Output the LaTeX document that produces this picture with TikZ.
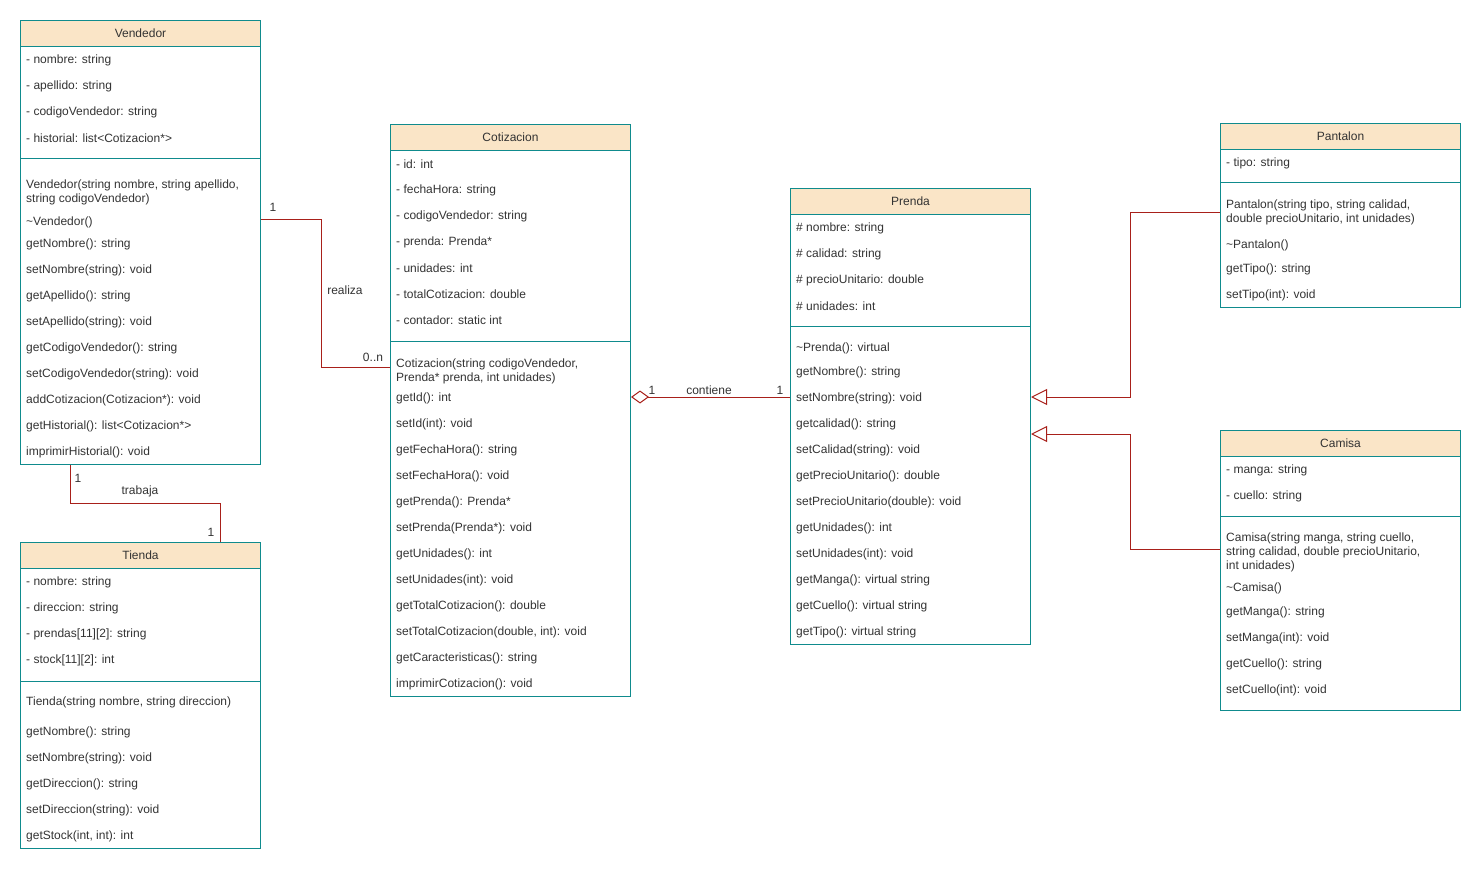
\documentclass[tikz,border=0pt]{standalone}
\usepackage{fontspec}
\setmainfont{Liberation Sans}
\usetikzlibrary{arrows.meta}
\definecolor{umlteal}{HTML}{0F8B8D}
\definecolor{umlhead}{HTML}{FAE5C7}
\definecolor{umlred}{HTML}{A8201A}
\definecolor{umltext}{HTML}{333333}
\tikzset{
	classbox/.style={draw=umlteal, line width=1pt, minimum width=240pt, inner sep=0pt, anchor=north west},
	headbox/.style={draw=umlteal, fill=umlhead, line width=1pt, minimum width=240pt, minimum height=26pt, inner sep=0pt, anchor=north west, text=umltext},
	row/.style={anchor=west, inner sep=0pt, text=umltext, align=left, yshift=-1pt},
	sepline/.style={draw=umlteal, line width=1pt},
	rel/.style={draw=umlred, line width=1pt},
	lbl/.style={text=umltext, inner sep=0pt, yshift=-1pt}
}
\begin{document}
\begin{tikzpicture}[x=1pt, y=-1pt, font=\fontsize{12}{14}\selectfont]
	\useasboundingbox (0,0) rectangle (1481,872);

	% Vendedor
	\node[classbox, minimum height=444pt] (vendedor) at (20,20) {};
	\node[headbox] (vendedor-h) at (20,20) {Vendedor};
	\draw[sepline] (20,159) -- (260,159);
	\foreach \y/\t [count=\i] in {59/{- nombre: string}, 85/{- apellido: string}, 111/{- codigoVendedor: string}, 137/{- historial: list<Cotizacion*>},
		191/{Vendedor(string nombre, string apellido,\\string codigoVendedor)}, 221/{\textasciitilde Vendedor()}, 243/{getNombre(): string}, 269/{setNombre(string): void},
		295/{getApellido(): string}, 321/{setApellido(string): void}, 347/{getCodigoVendedor(): string}, 373/{setCodigoVendedor(string): void},
		399/{addCotizacion(Cotizacion*): void}, 425/{getHistorial(): list<Cotizacion*>}, 451/{imprimirHistorial(): void}}
		\node[row] (vendedor-\i) at (26,\y) {\t};

	% Tienda
	\node[classbox, minimum height=306pt] (tienda) at (20,542) {};
	\node[headbox] (tienda-h) at (20,542) {Tienda};
	\draw[sepline] (20,681) -- (260,681);
	\foreach \y/\t [count=\i] in {581/{- nombre: string}, 607/{- direccion: string}, 633/{- prendas[11][2]: string}, 659/{- stock[11][2]: int},
		701/{Tienda(string nombre, string direccion)}, 731/{getNombre(): string}, 757/{setNombre(string): void}, 783/{getDireccion(): string},
		809/{setDireccion(string): void}, 835/{getStock(int, int): int}}
		\node[row] (tienda-\i) at (26,\y) {\t};

	% Cotizacion
	\node[classbox, minimum height=572pt] (cotizacion) at (390,124) {};
	\node[headbox] (cotizacion-h) at (390,124) {Cotizacion};
	\draw[sepline] (390,341) -- (630,341);
	\foreach \y/\t [count=\i] in {163/{- id: int}, 189/{- fechaHora: string}, 215/{- codigoVendedor: string}, 241/{- prenda: Prenda*},
		267/{- unidades: int}, 293/{- totalCotizacion: double}, 319/{- contador: static int},
		370/{Cotizacion(string codigoVendedor,\\Prenda* prenda, int unidades)}, 397/{getId(): int}, 423/{setId(int): void},
		449/{getFechaHora(): string}, 475/{setFechaHora(): void}, 501/{getPrenda(): Prenda*}, 527/{setPrenda(Prenda*): void},
		553/{getUnidades(): int}, 579/{setUnidades(int): void}, 605/{getTotalCotizacion(): double},
		631/{setTotalCotizacion(double, int): void}, 657/{getCaracteristicas(): string}, 683/{imprimirCotizacion(): void}}
		\node[row] (cotizacion-\i) at (396,\y) {\t};

	% Prenda
	\node[classbox, minimum height=456pt] (prenda) at (790,188) {};
	\node[headbox] (prenda-h) at (790,188) {Prenda};
	\draw[sepline] (790,326) -- (1030,326);
	\foreach \y/\t [count=\i] in {227/{\# nombre: string}, 253/{\# calidad: string}, 279/{\# precioUnitario: double}, 305/{\# unidades: int},
		347/{\textasciitilde Prenda(): virtual}, 371/{getNombre(): string}, 397/{setNombre(string): void}, 423/{getcalidad(): string},
		449/{setCalidad(string): void}, 475/{getPrecioUnitario(): double}, 501/{setPrecioUnitario(double): void},
		527/{getUnidades(): int}, 553/{setUnidades(int): void}, 579/{getManga(): virtual string},
		605/{getCuello(): virtual string}, 631/{getTipo(): virtual string}}
		\node[row] (prenda-\i) at (796,\y) {\t};

	% Pantalon
	\node[classbox, minimum height=184pt] (pantalon) at (1220,123) {};
	\node[headbox] (pantalon-h) at (1220,123) {Pantalon};
	\draw[sepline] (1220,183) -- (1460,183);
	\foreach \y/\t [count=\i] in {162/{- tipo: string}, 211/{Pantalon(string tipo, string calidad,\\double precioUnitario, int unidades)},
		244/{\textasciitilde Pantalon()}, 268/{getTipo(): string}, 294/{setTipo(int): void}}
		\node[row] (pantalon-\i) at (1226,\y) {\t};

	% Camisa
	\node[classbox, minimum height=280pt] (camisa) at (1220,430) {};
	\node[headbox] (camisa-h) at (1220,430) {Camisa};
	\draw[sepline] (1220,516) -- (1460,516);
	\foreach \y/\t [count=\i] in {469/{- manga: string}, 495/{- cuello: string},
		551/{Camisa(string manga, string cuello,\\string calidad, double precioUnitario,\\int unidades)},
		587/{\textasciitilde Camisa()}, 611/{getManga(): string}, 637/{setManga(int): void}, 663/{getCuello(): string}, 689/{setCuello(int): void}}
		\node[row] (camisa-\i) at (1226,\y) {\t};

	% relations
	\coordinate (realiza-a) at (0,219);
	\coordinate (realiza-b) at (0,367);
	\coordinate (trabaja-a) at (70,0);
	\coordinate (trabaja-b) at (220,0);
	\coordinate (contiene-a) at (0,397);
	\coordinate (camisa-a) at (0,549);
	\coordinate (camisa-b) at (0,434);

	\draw[rel] (vendedor.east |- realiza-a) -- ++(60,0) |- (cotizacion.west |- realiza-b);
	\draw[rel] (vendedor.south -| trabaja-a) -- ++(0,38) -| (tienda.north -| trabaja-b);
	\draw[rel, {Diamond[open, length=18pt, width=13pt]}-] (cotizacion.east |- contiene-a) -- (prenda.west |- contiene-a);
	\draw[rel, -{Triangle[open, length=16pt, width=16pt]}] (pantalon.west |- pantalon-2) -- ++(-90,0) |- (prenda.east |- contiene-a);
	\draw[rel, -{Triangle[open, length=16pt, width=16pt]}] (camisa.west |- camisa-a) -- ++(-90,0) |- (prenda.east |- camisa-b);

	\node[lbl] (realiza-1) at (273,206) {1};
	\node[lbl] (realiza-l) at (345,289) {realiza};
	\node[lbl] (realiza-n) at (373,356) {0..n};
	\node[lbl] (trabaja-1) at (78,477) {1};
	\node[lbl] (trabaja-l) at (140,490) {trabaja};
	\node[lbl] (trabaja-2) at (211,531) {1};
	\node[lbl] (contiene-1) at (652,389) {1};
	\node[lbl] (contiene-l) at (709,389) {contiene};
	\node[lbl] (contiene-2) at (780,389) {1};
\end{tikzpicture}
\end{document}
